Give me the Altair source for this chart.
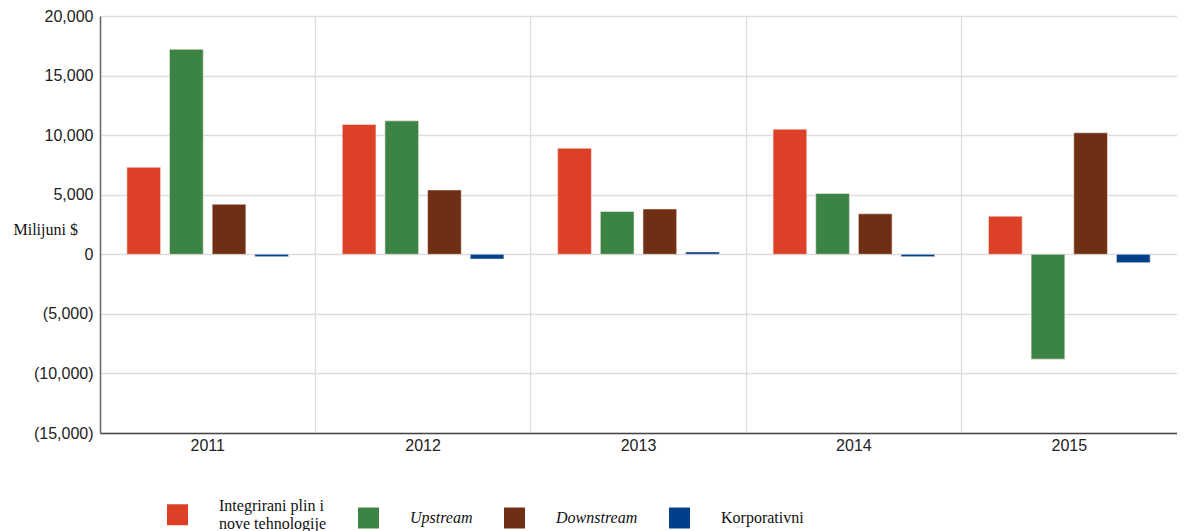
import altair as alt
import pandas as pd

years = ["2011", "2012", "2013", "2014", "2015"]
segments = ["Integrirani plin i nove tehnologije", "Upstream", "Downstream", "Korporativni"]
colors = ["#DC4128", "#3C8443", "#6F2F14", "#003F8A"]

integrirani = [7300, 10900, 8900, 10500, 3200]
upstream = [17200, 11200, 3600, 5100, -8800]
downstream = [4200, 5400, 3800, 3400, 10200]
korporativni = [-200, -400, 200, -200, -700]

series = [integrirani, upstream, downstream, korporativni]
rows = []
for seg, vals in zip(segments, series):
    for yr, v in zip(years, vals):
        rows.append({"Godina": yr, "Segment": seg, "Vrijednost": v})
df = pd.DataFrame(rows)

label_expr = ("datum.value < 0 ? '(' + format(-datum.value, ',') + ')' : format(datum.value, ',')")
first = segments[0]

chart = alt.Chart(df).mark_bar(stroke="#f4e8e4", strokeWidth=0.6).encode(
    x=alt.X(
        "Godina:N",
        sort=years,
        scale=alt.Scale(paddingInner=0, paddingOuter=0),
        axis=alt.Axis(
            title=None, labelAngle=0, ticks=False, grid=True, bandPosition=0,
            gridColor="#dddddd", gridWidth=1.3,
            labelFont="Liberation Sans", labelFontSize=16, labelColor="#222222",
            labelPadding=4, domainColor="#444444", domainWidth=1.5,
        ),
    ),
    xOffset=alt.XOffset(
        "Segment:N", sort=segments,
        scale=alt.Scale(paddingInner=0.21, paddingOuter=0.63),
    ),
    y=alt.Y(
        "Vrijednost:Q",
        scale=alt.Scale(domain=[-15000, 20000], nice=False),
        axis=alt.Axis(
            values=[-15000, -10000, -5000, 0, 5000, 10000, 15000, 20000],
            labelExpr=label_expr, ticks=False,
            labelFont="Liberation Sans", labelFontSize=16, labelColor="#222222",
            labelPadding=7, gridColor="#dddddd", gridWidth=1.3,
            domainColor="#666666", domainWidth=1.5,
            title="Milijuni $", titleAngle=0, titleFont="Liberation Serif",
            titleFontSize=16, titleFontWeight="normal", titleColor="#111111",
            titleAlign="left", titleBaseline="middle", titleX=-87, titleY=213,
        ),
    ),
    color=alt.Color(
        "Segment:N", sort=segments,
        scale=alt.Scale(domain=segments, range=colors),
        legend=alt.Legend(
            title=None, orient="none", direction="horizontal",
            legendX=67, legendY=488,
            symbolType="square", symbolSize=440, symbolStrokeWidth=0,
            symbolOpacity=1,
            labelFont="Liberation Serif", labelFontSize=16, labelColor="#111111",
            labelOffset=31, columnPadding=31, labelLimit=220,
            labelExpr="datum.value == '" + first + "' ? ['Integrirani plin i', 'nove tehnologije'] : datum.label",
            labelBaseline={"expr": "datum.value == '" + first + "' ? 'line-bottom' : 'middle'"},
            labelFontStyle={"expr": "datum.value == 'Upstream' || datum.value == 'Downstream' ? 'italic' : 'normal'"},
        ),
    ),
).properties(
    width=1077,
    height=417,
    padding={"left": 92, "top": 8, "right": 0, "bottom": 98},
    autosize=alt.AutoSizeParams(type="none"),
).configure_view(stroke=None)

chart.save("out.html", embed_options={"renderer": "svg", "actions": False})
